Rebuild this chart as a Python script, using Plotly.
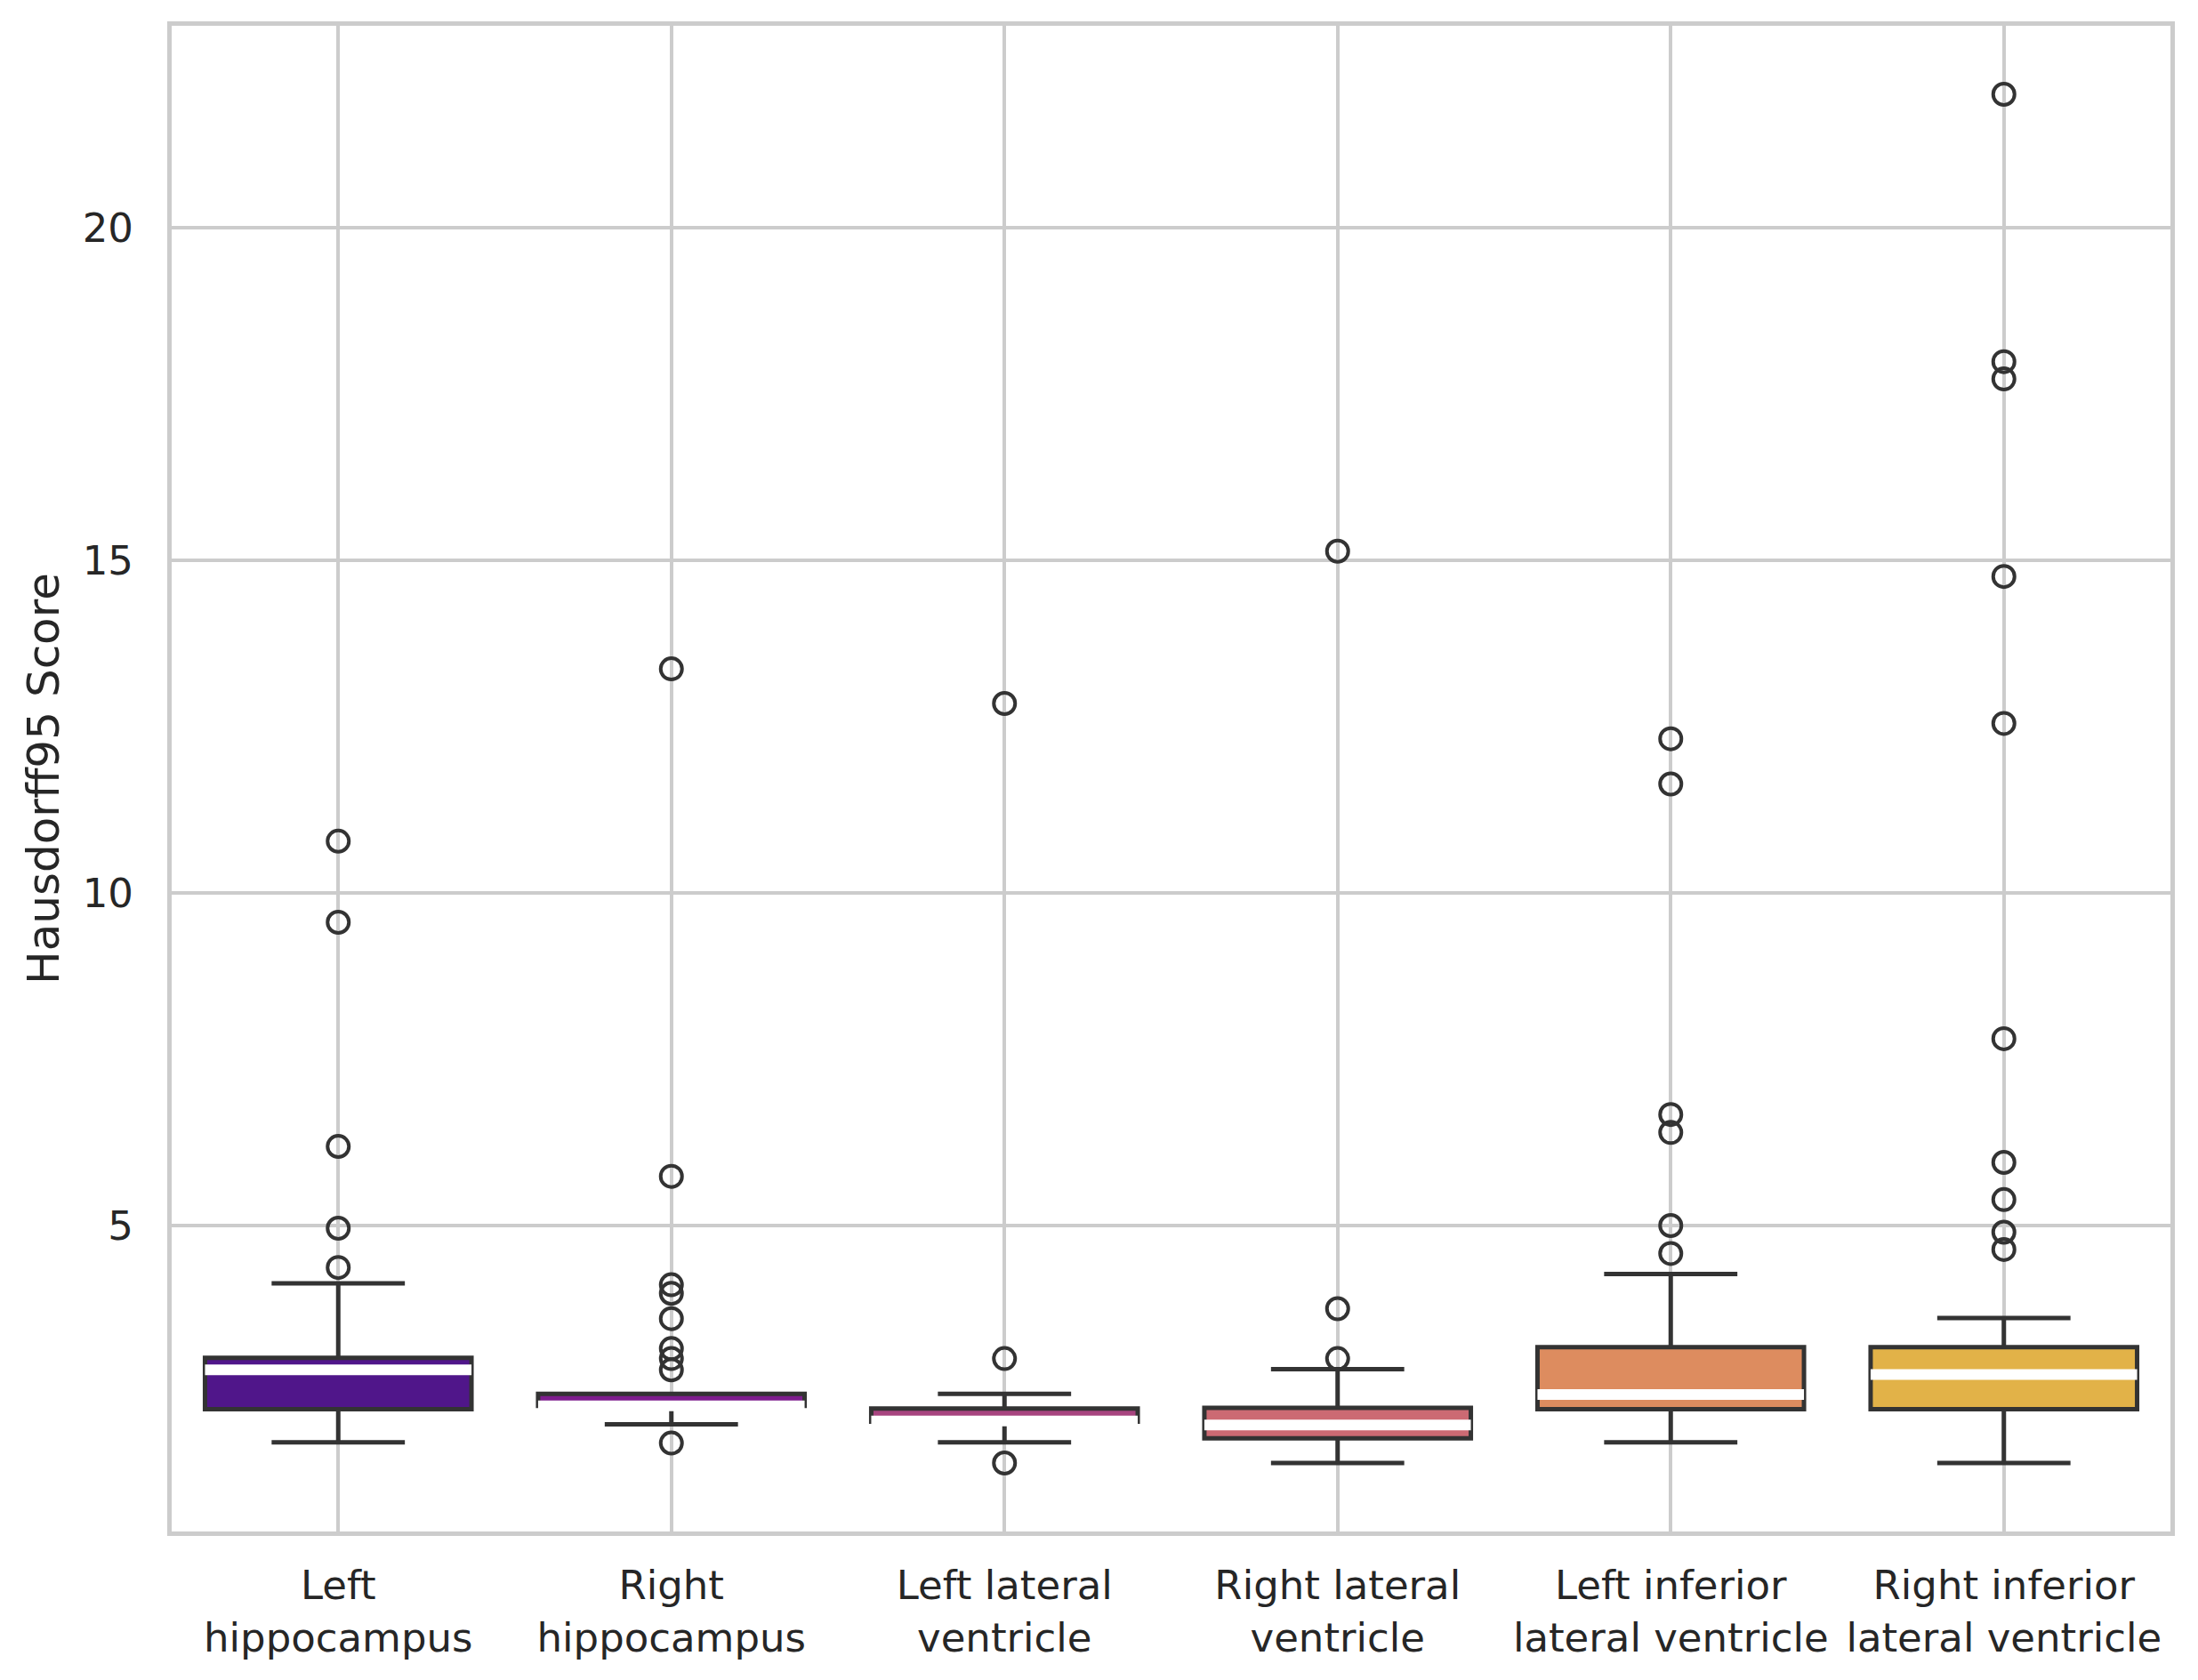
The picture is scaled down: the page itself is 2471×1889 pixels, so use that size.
import plotly.graph_objects as go

categories = [
    "Left<br>hippocampus",
    "Right<br>hippocampus",
    "Left lateral<br>ventricle",
    "Right lateral<br>ventricle",
    "Left inferior<br>lateral ventricle",
    "Right inferior<br>lateral ventricle",
]

q1_values = [2.24, 2.29, 2.05, 1.80, 2.24, 2.24]
median_values = [2.83, 2.29, 2.06, 2.00, 2.46, 2.76]
q3_values = [3.01, 2.47, 2.25, 2.26, 3.17, 3.17]
lower_whiskers = [1.74, 2.01, 1.74, 1.43, 1.74, 1.43]
upper_whiskers = [4.13, 2.47, 2.47, 2.84, 4.27, 3.61]

outliers = [
    [4.37, 4.96, 6.19, 9.56, 10.78],
    [1.73, 2.83, 3.00, 3.15, 3.60, 3.98, 4.11, 5.74, 13.37],
    [1.43, 3.00, 12.85],
    [3.00, 3.75, 15.14],
    [4.58, 5.00, 6.40, 6.67, 11.64, 12.32],
    [4.64, 4.90, 5.39, 5.95, 7.81, 12.55, 14.76, 17.73, 17.99, 22.01],
]

box_colors = ["#50168a", "#7e1d8e", "#a7447f", "#cc6a73", "#dd8c5f", "#e2b248"]

y_ticks = [5, 10, 15, 20]
y_title = "Hausdorff95 Score"

BOX_WIDTH = 0.8
DARK = "#333333"
GRID = "#cccccc"
FONT = "DejaVu Sans"
TEXT = "#262626"

fig = go.Figure()

positions = list(range(len(categories)))

for i in positions:
    fig.add_trace(go.Box(
        x=[i],
        q1=[q1_values[i]],
        median=[median_values[i]],
        q3=[q3_values[i]],
        lowerfence=[lower_whiskers[i]],
        upperfence=[upper_whiskers[i]],
        fillcolor=box_colors[i],
        line=dict(color=DARK, width=5),
        width=BOX_WIDTH,
        whiskerwidth=0.5,
        boxpoints=False,
        showlegend=False,
        hoverinfo="skip",
    ))

for i in positions:
    fig.add_trace(go.Scatter(
        x=[i - BOX_WIDTH / 2, i + BOX_WIDTH / 2],
        y=[median_values[i], median_values[i]],
        mode="lines",
        line=dict(color="white", width=12),
        showlegend=False,
        hoverinfo="skip",
    ))

for i in positions:
    fig.add_trace(go.Scatter(
        x=[i] * len(outliers[i]),
        y=outliers[i],
        mode="markers",
        marker=dict(symbol="circle-open", size=24, color=DARK,
                    line=dict(width=4, color=DARK)),
        showlegend=False,
        hoverinfo="skip",
    ))

axis_style = dict(
    showgrid=True, gridcolor=GRID, gridwidth=4,
    showline=True, linecolor=GRID, linewidth=5, mirror=True,
    zeroline=False, ticks="",
    tickfont=dict(family=FONT, size=45, color=TEXT),
)

fig.update_layout(
    width=2471, height=1889,
    margin=dict(l=193, r=31, t=29, b=167, autoexpand=False),
    plot_bgcolor="white", paper_bgcolor="white",
    font=dict(family=FONT, color=TEXT),
    xaxis=dict(range=[-0.5, 5.5], tickvals=positions, ticktext=categories,
               ticklabelstandoff=17, **axis_style),
    yaxis=dict(range=[0.40, 23.04], tickvals=y_ticks,
               ticktext=[str(t) for t in y_ticks], ticklabelstandoff=29,
               title=dict(text=y_title, font=dict(family=FONT, size=50, color=TEXT),
                          standoff=12),
               **axis_style),
)

fig.write_html("out.html", config={"displayModeBar": False},
               post_script="document.body.style.margin='0';")
